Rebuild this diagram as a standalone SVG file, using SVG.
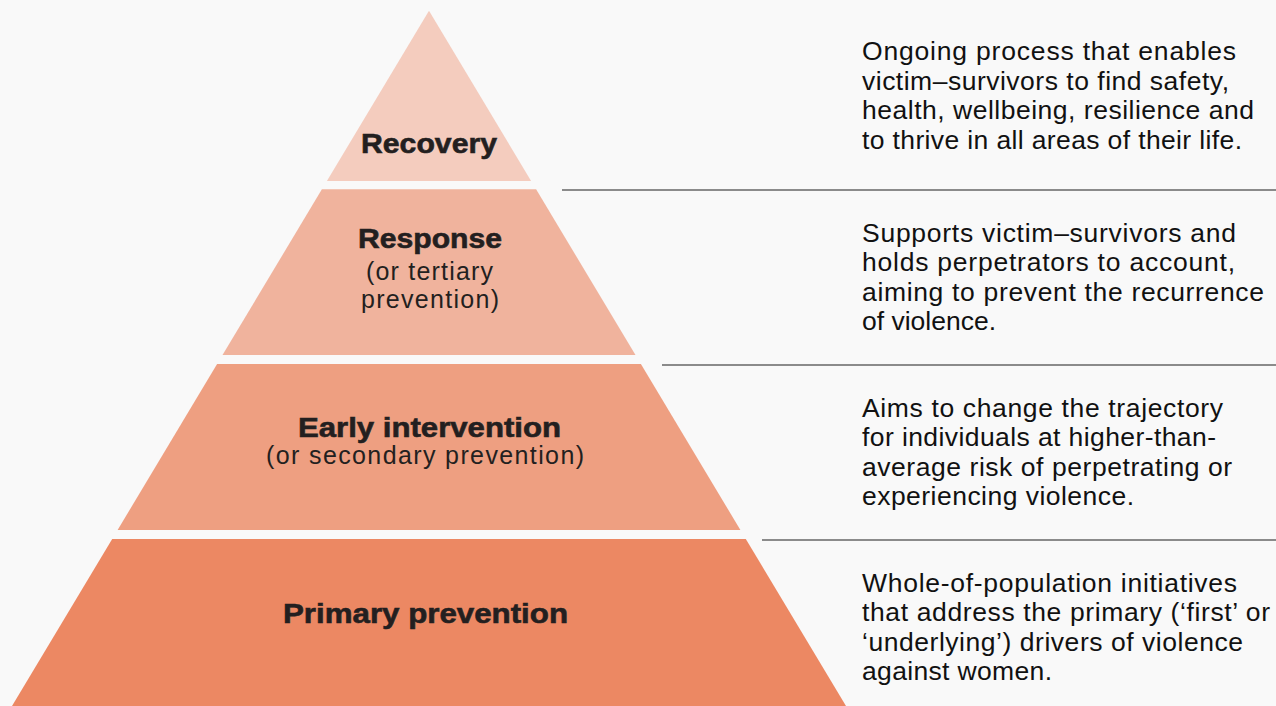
<svg xmlns="http://www.w3.org/2000/svg" width="1276" height="706" viewBox="0 0 1276 706">
<style>
.lbl{font-family:"Liberation Sans",Arial,sans-serif;font-weight:bold;font-size:28px;fill:#231f20;stroke:#231f20;stroke-width:0.6;text-anchor:middle}
.sub{font-family:"Liberation Sans",Arial,sans-serif;font-size:25px;fill:#231f20;text-anchor:middle}
.desc{font-family:"Liberation Sans",Arial,sans-serif;font-size:26.5px;fill:#111}
.div{stroke:#666;stroke-width:1.5;fill:none}
</style>
<rect width="1276" height="706" fill="#f9f9f9"/>
<g id="connectors">
<line class="div" x1="562" y1="190" x2="1276" y2="190"/>
<line class="div" x1="662" y1="365" x2="1276" y2="365"/>
<line class="div" x1="762" y1="540" x2="1276" y2="540"/>
</g>
<g id="recovery">
<polygon points="429,10.7 531.1,181 326.9,181" fill="#f4ccbe"/>
<text class="lbl" x="429" y="153" textLength="136" lengthAdjust="spacingAndGlyphs">Recovery</text>
<text class="desc" x="862" y="60" textLength="374" lengthAdjust="spacing">Ongoing process that enables</text>
<text class="desc" x="862" y="89.5" textLength="367" lengthAdjust="spacing">victim–survivors to find safety,</text>
<text class="desc" x="862" y="119" textLength="392" lengthAdjust="spacing">health, wellbeing, resilience and</text>
<text class="desc" x="862" y="148.5" textLength="380" lengthAdjust="spacing">to thrive in all areas of their life.</text>
</g>
<g id="response">
<polygon points="321.9,189.3 536.1,189.3 635.5,355 222.5,355" fill="#f0b39d"/>
<text class="lbl" x="430" y="248.3" textLength="144" lengthAdjust="spacingAndGlyphs">Response</text>
<text class="sub" x="429.5" y="280" textLength="127" lengthAdjust="spacing">(or tertiary</text>
<text class="sub" x="430" y="308.3" textLength="138" lengthAdjust="spacing">prevention)</text>
<text class="desc" x="862" y="241.7" textLength="374" lengthAdjust="spacing">Supports victim–survivors and</text>
<text class="desc" x="862" y="271.2" textLength="373" lengthAdjust="spacing">holds perpetrators to account,</text>
<text class="desc" x="862" y="300.7" textLength="402" lengthAdjust="spacing">aiming to prevent the recurrence</text>
<text class="desc" x="862" y="330.2" textLength="134" lengthAdjust="spacing">of violence.</text>
</g>
<g id="early-intervention">
<polygon points="217.1,364 640.9,364 740.4,530 117.6,530" fill="#ee9f81"/>
<text class="lbl" x="429.5" y="437.3" textLength="263" lengthAdjust="spacingAndGlyphs">Early intervention</text>
<text class="sub" x="425" y="464" textLength="318" lengthAdjust="spacing">(or secondary prevention)</text>
<text class="desc" x="862" y="416.7" textLength="361" lengthAdjust="spacing">Aims to change the trajectory</text>
<text class="desc" x="862" y="446.2" textLength="354" lengthAdjust="spacing">for individuals at higher-than-</text>
<text class="desc" x="862" y="475.7" textLength="370" lengthAdjust="spacing">average risk of perpetrating or</text>
<text class="desc" x="862" y="505.2" textLength="272" lengthAdjust="spacing">experiencing violence.</text>
</g>
<g id="primary-prevention">
<polygon points="112.2,539 745.8,539 848.4,710 9.6,710" fill="#ec8863"/>
<text class="lbl" x="425.5" y="622.7" textLength="285" lengthAdjust="spacingAndGlyphs">Primary prevention</text>
<text class="desc" x="862" y="591.7" textLength="375" lengthAdjust="spacing">Whole-of-population initiatives</text>
<text class="desc" x="862" y="621.2" textLength="408" lengthAdjust="spacing">that address the primary (‘first’ or</text>
<text class="desc" x="862" y="650.7" textLength="381" lengthAdjust="spacing">‘underlying’) drivers of violence</text>
<text class="desc" x="862" y="680.2" textLength="190" lengthAdjust="spacing">against women.</text>
</g>
</svg>
